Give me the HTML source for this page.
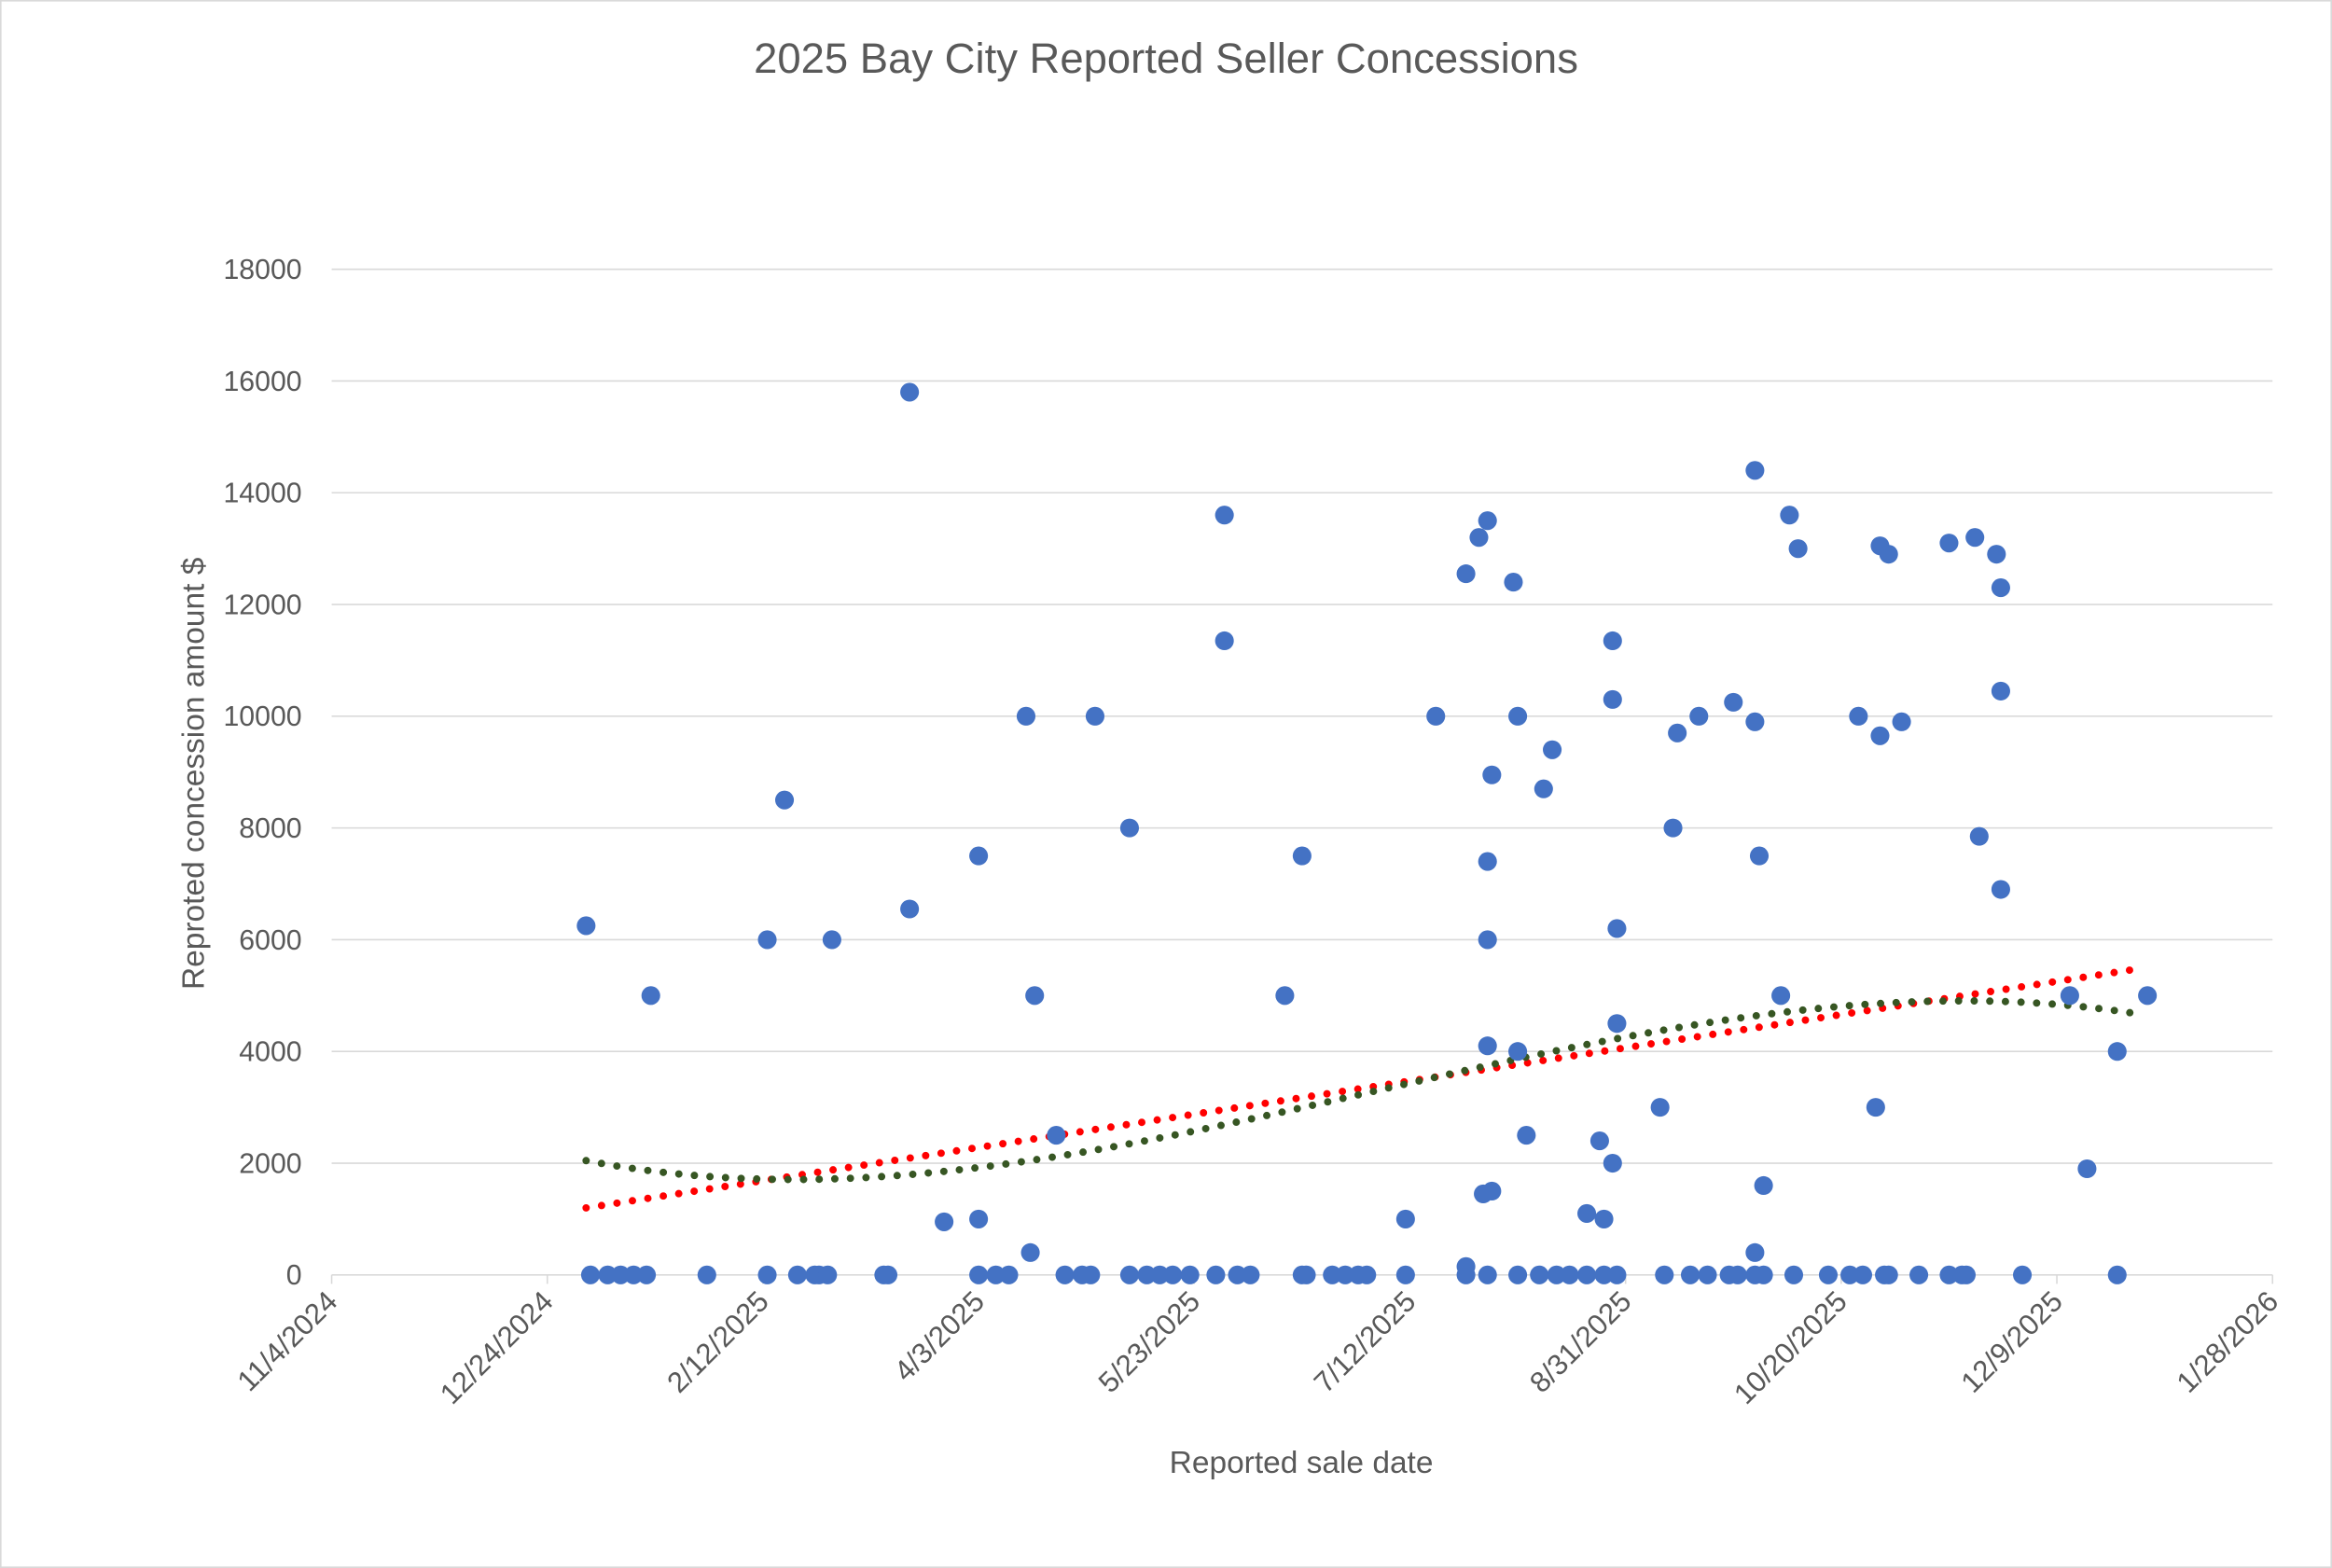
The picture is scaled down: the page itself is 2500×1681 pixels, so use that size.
<!DOCTYPE html>
<html><head><meta charset="utf-8"><style>
html,body{margin:0;padding:0;background:#fff}
svg{display:block}
text{font-family:"Liberation Sans",sans-serif;fill:#595959}
</style></head><body>
<svg id="chart" width="2500" height="1681" viewBox="0 0 1568 1054" preserveAspectRatio="none" xmlns="http://www.w3.org/2000/svg">
<rect x="0.5" y="0.5" width="1567" height="1053" fill="#fff" stroke="#d9d9d9"/>
<text x="784" y="49" text-anchor="middle" font-size="28.5">2025 Bay City Reported Seller Concessions</text>
<g id="grid"></g><g id="axes"></g><g id="trends"></g><g id="points"></g>
<text x="875" y="990" text-anchor="middle" font-size="21">Reported sale date</text>
<text transform="translate(137,520) rotate(-90)" text-anchor="middle" font-size="21">Reproted concession amount $</text>
</svg>
<script>
const xTickLabels=["11/4/2024","12/24/2024","2/12/2025","4/3/2025","5/23/2025","7/12/2025","8/31/2025","10/20/2025","12/9/2025","1/28/2026"];
const yTicks=[0,2000,4000,6000,8000,10000,12000,14000,16000,18000];
// days since 11/4/2024
const zeroDays=[60,64,67,70,73,87,101,108,112,113,115,128,129,150,154,157,170,174,176,185,189,192,195,199,205,210,213,225,226,232,235,238,240,249,263,268,275,280,284,287,291,295,298,309,315,319,324,326,330,332,339,347,352,355,360,361,368,375,378,379,392,414];
const zeroVals=zeroDays.map(()=>0);
const ptDays=[59,74,101,105,116,134,134,142,150,150,161,162,163,168,177,185,207,207,221,225,249,256,263,263,266,268,267,269,268,268,268,269,274,275,275,277,281,283,291,294,295,297,297,297,298,298,308,311,312,317,325,330,330,330,331,332,336,338,340,354,358,359,359,361,364,375,381,382,386,387,387,387,403,407,414,421];
const ptVals=[6250,5000,6000,8500,6000,15800,6550,950,7500,1000,10000,400,5000,2500,10000,8000,13600,11350,5000,7500,1000,10000,12550,150,13200,13500,1450,1500,7400,6000,4100,8950,12400,10000,4000,2500,8700,9400,1100,2400,1000,11350,10300,2000,6200,4500,3000,8000,9700,10000,10250,14400,9900,400,7500,1600,5000,13600,13000,10000,3000,13050,9650,12900,9900,13100,13200,7850,12900,12300,10450,6900,5000,1900,4000,5000];
// trendline readings (as shown in the chart)
const linTrendDays=[59,419];
const linTrendVals=[1200,5480];
const polyTrendDays=[59,100,164,206,252,298,337,375,419];
const polyTrendVals=[2050,1700,2080,2700,3450,4200,4700,4950,4650];
const X0=223,X1=1528,Y0=857,Y1=181,DMAX=450,VMAX=18000;
const sx=d=>X0+(d/DMAX)*(X1-X0), sy=v=>Y0-(v/VMAX)*(Y0-Y1);
const NS="http://www.w3.org/2000/svg";
function mk(tag,attrs,parent){const e=document.createElementNS(NS,tag);for(const k in attrs)e.setAttribute(k,attrs[k]);parent.appendChild(e);return e;}
const grid=document.getElementById('grid'),axes=document.getElementById('axes'),trends=document.getElementById('trends'),pts=document.getElementById('points');
yTicks.forEach(v=>{
 if(v>0){const l=mk('line',{x1:X0,x2:X1,y1:sy(v),y2:sy(v),stroke:'#d9d9d9','stroke-width':1},grid);
 
 }
 const t=mk('text',{x:203,y:sy(v)+6.5,'text-anchor':'end','font-size':19},axes);t.textContent=v;
 
 
});
const ax=mk('line',{x1:X0,x2:X1,y1:Y0,y2:Y0,stroke:'#d9d9d9','stroke-width':1},axes);


xTickLabels.forEach((lab,i)=>{
 const x=sx(i*50);
 const tk=mk('line',{x1:x,x2:x,y1:Y0,y2:Y0+6,stroke:'#d9d9d9'},axes);
 
 
 const t=mk('text',{x:x+5,y:Y0+19,'text-anchor':'end','font-size':19.5,transform:`rotate(-45 ${x+5} ${Y0+19})`},axes);t.textContent=lab;
 
 
});
function polyfit(xs,ys,deg){
 const n=deg+1,m=xs.map(x=>(x-240)/100);
 const A=[];for(let i=0;i<n;i++){A.push(new Array(n+1).fill(0));}
 m.forEach((x,k)=>{for(let i=0;i<n;i++){for(let j=0;j<n;j++)A[i][j]+=Math.pow(x,i+j);A[i][n]+=Math.pow(x,i)*ys[k];}});
 for(let i=0;i<n;i++){let p=i;for(let r=i+1;r<n;r++)if(Math.abs(A[r][i])>Math.abs(A[p][i]))p=r;[A[i],A[p]]=[A[p],A[i]];
  for(let r=0;r<n;r++){if(r===i)continue;const f=A[r][i]/A[i][i];for(let c=i;c<=n;c++)A[r][c]-=f*A[i][c];}}
 const co=A.map((row,i)=>row[n]/row[i]);
 return d=>{const x=(d-240)/100;return co.reduce((s,c,i)=>s+c*Math.pow(x,i),0);};
}
[[linTrendDays,linTrendVals,1,'#ff0000','linear-trendline'],[polyTrendDays,polyTrendVals,3,'#375623','polynomial-trendline']].forEach(([ds,vs,deg,col,name])=>{
 const f=polyfit(ds,vs,deg);const a=Math.min(...ds),b=Math.max(...ds);let p='';
 for(let d=a;d<=b;d+=1)p+=(d===a?'M':'L')+sx(d).toFixed(2)+','+sy(f(d)).toFixed(2);
 const e=mk('path',{d:p,fill:'none',stroke:col,'stroke-width':5,'stroke-linecap':'round','stroke-dasharray':'0 10.5'},trends);
 
 
});
const allD=zeroDays.concat(ptDays),allV=zeroVals.concat(ptVals);
allD.forEach((d,i)=>{
 const c=mk('circle',{cx:sx(d),cy:sy(allV[i]),r:6.3,fill:'#4472c4'},pts);
 
 
});
</script>
</body></html>
